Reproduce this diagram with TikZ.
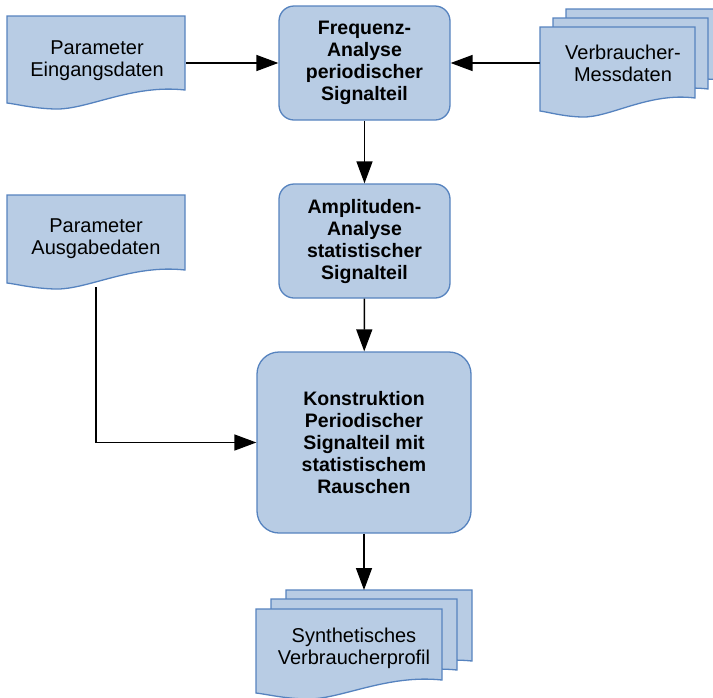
\documentclass[tikz,border=0pt]{standalone}
\usepackage{fontspec}
\setmainfont{Liberation Sans}
\usetikzlibrary{arrows.meta}
\definecolor{boxfill}{HTML}{B8CCE4}
\definecolor{boxline}{HTML}{5683BF}
\tikzset{
  docsty/.style={draw=boxline, fill=boxfill, line width=1.3pt},
  txt/.style={inner sep=0pt, align=center, font=\fontsize{20}{22}\selectfont},
  procbox/.style={draw=boxline, fill=boxfill, line width=1.3pt, rounded corners=15pt, inner sep=0pt, align=center, font=\fontsize{19.5}{22}\selectfont\bfseries},
  arr/.style={line width=1.5pt, -{Triangle[length=22pt,width=16pt]}}
}
\newcommand\docshape[4]{%
  \draw[docsty] (#1,#2) -- (#3,#2) -- (#3,#4)
    .. controls ({#3-0.3*(#3-#1)},{#4-6}) and ({#1+0.45*(#3-#1)},{#4+20}) .. ({#1+0.27*(#3-#1)},{#4+19})
    .. controls ({#1+0.15*(#3-#1)},{#4+18.5}) and ({#1+0.05*(#3-#1)},{#4+14}) .. (#1,{#4+13}) -- cycle;}
\begin{document}
\begin{tikzpicture}[x=1pt,y=-1pt]
\useasboundingbox (0,0) rectangle (713,697);
% documents
\docshape{7}{16}{185}{90}
\docshape{566}{9}{721}{80}
\docshape{553}{18}{708}{89}
\docshape{540}{27}{695}{98}
\docshape{7}{195}{185}{270}
\docshape{286}{590}{472}{661}
\docshape{271}{599}{457}{670}
\docshape{256}{609}{442}{680}
% text nodes
\node[txt, minimum width=178pt] (ein) at (97,61) {Parameter\\Eingangsdaten};
\node[txt, minimum width=166pt] (mess) at (623,63) {Verbraucher-\\Messdaten};
\node[txt, minimum width=178pt, minimum height=96pt] (aus) at (96,239) {Parameter\\Ausgabedaten};
\node[txt] (syn) at (354,648) {Synthetisches\\Verbraucherprofil};
\node[inner sep=0pt, minimum width=186pt, minimum height=10pt, anchor=north] (synback) at (379,590) {};
% process boxes
\node[procbox, minimum width=171pt, minimum height=114pt] (freq) at (364.5,63) {Frequenz-\\Analyse\\periodischer\\Signalteil};
\node[procbox, minimum width=171pt, minimum height=114pt] (ampl) at (364.5,241) {Amplituden-\\Analyse\\statistischer\\Signalteil};
\node[procbox, rounded corners=22pt, minimum width=214pt, minimum height=181pt] (konst) at (364,442.5) {Konstruktion\\Periodischer\\Signalteil mit\\statistischem\\Rauschen};
% connectors
\draw[arr] (ein.east |- freq.west) -- (freq.west);
\draw[arr] (mess.west |- freq.east) -- (freq.east);
\draw[arr] (freq) -- (ampl);
\draw[arr] (ampl) -- (konst);
\draw[arr] (aus.south) |- (konst.west);
\draw[arr] (konst.south) -- (konst.south |- synback.north);
\end{tikzpicture}
\end{document}
